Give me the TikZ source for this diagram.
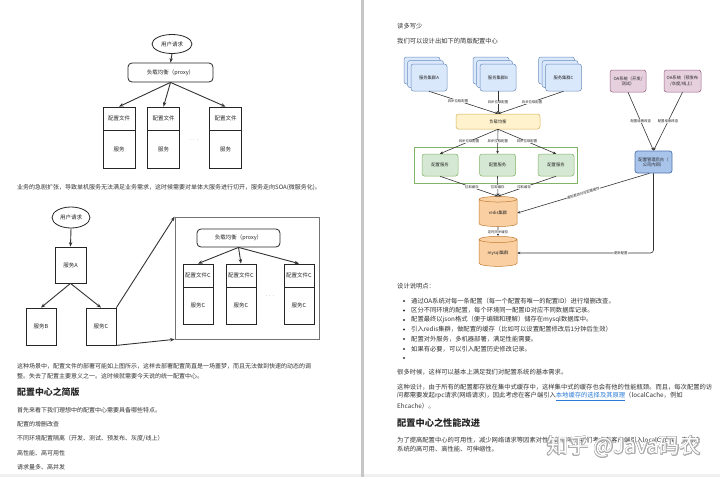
\documentclass[tikz,border=0pt]{standalone}
\usepackage{fontspec}
\setmainfont{Noto Sans CJK SC}
\usepackage{contour}
\contourlength{0.6pt}
\usetikzlibrary{arrows.meta,shapes.geometric}
\definecolor{bfill}{HTML}{DAE8FC}\definecolor{bdraw}{HTML}{6C8EBF}
\definecolor{yfill}{HTML}{FFF2CC}\definecolor{ydraw}{HTML}{D6B656}
\definecolor{gfill}{HTML}{D5E8D4}\definecolor{gdraw}{HTML}{82B366}
\definecolor{ofill}{HTML}{FAD0A3}\definecolor{odraw}{HTML}{C07A30}
\definecolor{pfill}{HTML}{E6D0DE}\definecolor{pdraw}{HTML}{996185}
\definecolor{mfill}{HTML}{A9C4EB}\definecolor{mdraw}{HTML}{4F74AE}
\definecolor{txtc}{HTML}{333333}
\definecolor{linkc}{HTML}{2B7BD6}
\newcommand\bodyfont{\fontsize{6.3}{9.5}\selectfont}
\newcommand\lbodyfont{\fontsize{6.0}{9}\selectfont}
\newcommand\headfont{\fontsize{9.2}{11}\selectfont\bfseries}
\newcommand\lheadfont{\fontsize{8.9}{11}\selectfont\bfseries}
\newcommand\lfont{\fontsize{5.5}{6.5}\selectfont}
\newcommand\sfont{\fontsize{4.3}{5.2}\selectfont}
\newcommand\efont{\fontsize{3.4}{4}\selectfont}
\tikzset{
  txt/.style={anchor=west, inner sep=0, font=\bodyfont, text=txtc},
  ltxt/.style={anchor=west, inner sep=0, font=\lbodyfont, text=txtc},
  headtxt/.style={anchor=west, inner sep=0, font=\headfont, text=black!85},
  lheadtxt/.style={anchor=west, inner sep=0, font=\lheadfont, text=black!85},
  lbox/.style={draw=black!85, line width=0.8pt, fill=white, inner sep=0, font=\lfont, text=black!85},
  lell/.style={ellipse, draw=black!85, line width=0.8pt, fill=white, inner sep=0, font=\lfont, text=black!85},
  larr/.style={-{Stealth[length=4.5pt,width=3.5pt]}, line width=0.9pt, draw=black!80},
  rbox/.style={draw, rounded corners=2.5, line width=0.5pt, inner sep=0, font=\sfont, align=center, text=black!85},
  cl/.style={rbox, fill=bfill, draw=bdraw, minimum width=36, minimum height=27},
  cyl/.style={cylinder, shape border rotate=90, aspect=0.3, draw=odraw, fill=ofill, line width=0.5pt, minimum width=38, minimum height=30, inner sep=0, font=\sfont, text=black!85},
  rarr/.style={-{Stealth[length=3pt,width=2.6pt]}, line width=0.6pt, draw=black!80},
  elbl/.style={font=\efont, fill=white, inner sep=0.4pt, text=black!85},
  dots/.style={inner sep=0, font=\lfont, text=black!70}
}
\begin{document}
\begin{tikzpicture}[x=1pt,y=-1pt]
\useasboundingbox (0,0) rectangle (720,477);
\fill[white] (0,0) rectangle (720,477);
\fill[gray!12] (0,474) rectangle (720,477);
\fill[gray!45] (361,0) rectangle (363.5,477);

% ---------- diagram 1 ----------
\node[lell, minimum width=40, minimum height=19] (u1) at (172,44) {用户请求};
\node[lbox, rounded corners=4, minimum width=85, minimum height=19] (p1) at (170.5,72.5) {负载均衡（proxy）};
\node[lbox, minimum width=32, minimum height=23] (a1t) at (119,118.5) {配置文件};
\node[lbox, minimum width=32, minimum height=38] (a1b) at (119,149) {服务};
\node[lbox, minimum width=32, minimum height=23] (a2t) at (163.5,118.5) {配置文件};
\node[lbox, minimum width=32, minimum height=38] (a2b) at (163.5,149) {服务};
\node[lbox, minimum width=32, minimum height=23] (a3t) at (225.5,118.5) {配置文件};
\node[lbox, minimum width=32, minimum height=38] (a3b) at (225.5,149) {服务};
\node[dots] (d1) at (194,140) {$\cdots$};
\draw[larr] (u1.south) -- (p1.north);
\draw[larr] (p1.south) -- (a1t.north);
\draw[larr] (p1.south) -- (a2t.north);
\draw[larr] (p1.south) -- (a3t.north);

\node[ltxt] (t1) at (17,188) {业务的急剧扩张，导致单机服务无法满足业务需求，这时候需要对单体大服务进行切开，服务走向SOA(微服务化)。};

% ---------- diagram 2 ----------
\node[lell, minimum width=38, minimum height=21] (u2) at (71,217.5) {用户请求};
\node[lbox, minimum width=31, minimum height=36] (sa) at (70.5,265) {服务A};
\node[lbox, minimum width=30, minimum height=37] (sb) at (41,326.5) {服务B};
\node[lbox, minimum width=30, minimum height=37] (sc) at (101,326.5) {服务C};
\draw[larr] (u2.south) -- (sa.north);
\draw[larr] (sa.south) -- (sb.north);
\draw[larr] (sa.south) -- (sc.north);
\node[draw=black!55, line width=0.7pt, minimum width=144, minimum height=122, inner sep=0] (big) at (247,278) {};
\draw[larr] (sc.north east) -- (big.north west);
\draw[larr] (sc.south east) -- (big.south west);
\node[lbox, rounded corners=4, minimum width=83, minimum height=18] (p2) at (238.5,238) {负载均衡（proxy）};
\node[lbox, minimum width=30, minimum height=23] (b1t) at (198,275.5) {配置文件C};
\node[lbox, minimum width=30, minimum height=37] (b1b) at (198,305.5) {服务C};
\node[lbox, minimum width=30, minimum height=23] (b2t) at (241,275.5) {配置文件C};
\node[lbox, minimum width=30, minimum height=37] (b2b) at (241,305.5) {服务C};
\node[lbox, minimum width=30, minimum height=23] (b3t) at (299,275.5) {配置文件C};
\node[lbox, minimum width=30, minimum height=37] (b3b) at (299,305.5) {服务C};
\node[dots] (d2) at (270,296) {$\cdots$};
\draw[larr] (p2.south) -- (b1t.north);
\draw[larr] (p2.south) -- (b2t.north);
\draw[larr] (p2.south) -- (b3t.north);

% ---------- left page text ----------
\node[ltxt] (t2) at (17,366) {这种场景中，配置文件的部署可能如上图所示，这样去部署配置简直是一场噩梦，而且无法做到快速的动态的调};
\node[ltxt] (t3) at (17,376) {整。失去了配置主要意义之一。这时候就需要今天说的统一配置中心。};
\node[lheadtxt] (h1) at (17,392) {配置中心之简版};
\node[ltxt] (t4) at (17,410) {首先来看下我们理想中的配置中心需要具备哪些特点。};
\node[ltxt] (t5) at (17,424) {配置的增删改查};
\node[ltxt] (t6) at (17,438) {不同环境配置隔离（开发、测试、预发布、灰度/线上）};
\node[ltxt] (t7) at (17,453) {高性能、高可用性};
\node[ltxt] (t8) at (17,467) {请求量多、高并发};

% ---------- right page text (top) ----------
\node[txt] (r1) at (397,26) {读多写少};
\node[txt] (r2) at (397,41) {我们可以设计出如下的简版配置中心};

% ---------- right diagram ----------
\foreach \n/\x in {A/429, B/498, C/563.5}{
  \node[cl] (c\n3) at (\x-7,70.5) {};
  \node[cl] (c\n2) at (\x-3.5,74) {};
}
\node[cl] (cA) at (429,77.5) {服务集群A};
\node[cl] (cB) at (498,77.5) {服务集群B};
\node[cl] (cC) at (563.5,77.5) {服务集群C};
\node[rbox, fill=yfill, draw=ydraw, minimum width=84, minimum height=15] (pr) at (498,121.5) {负载均衡};
\draw[rarr] (cA.south) -- node[elbl, pos=0.42] {异步拉取配置} (pr.north);
\draw[rarr] (cB.south) -- node[elbl, pos=0.5] {异步拉取配置} (pr.north);
\draw[rarr] (cC.south) -- node[elbl, pos=0.48] {异步拉取配置} (pr.north);
\node[draw=gdraw, line width=0.6pt, minimum width=163, minimum height=36, inner sep=0] (gc) at (495.5,165) {};
\node[rbox, fill=gfill, draw=gdraw, minimum width=36, minimum height=22] (g1) at (440,165) {配置服务};
\node[rbox, fill=gfill, draw=gdraw, minimum width=36, minimum height=22] (g2) at (497.5,165) {配置服务};
\node[rbox, fill=gfill, draw=gdraw, minimum width=36, minimum height=22] (g3) at (556,165) {配置服务};
\draw[rarr] (pr.south) -- node[elbl, pos=0.5] {异步拉取配置} (g1.north);
\draw[rarr] (pr.south) -- node[elbl, pos=0.5] {异步拉取配置} (g2.north);
\draw[rarr] (pr.south) -- node[elbl, pos=0.5] {异步拉取配置} (g3.north);
\node[cyl] (rd) at (498,213) {redis集群};
\node[cyl] (my) at (498,253) {mysql集群};
\draw[rarr] (g1.south) -- node[elbl, pos=0.55] {拉取缓存} (rd.north);
\draw[rarr] (g2.south) -- node[elbl, pos=0.55] {拉取缓存} (rd.north);
\draw[rarr] (g3.south) -- node[elbl, pos=0.55] {拉取缓存} (rd.north);
\draw[rarr] (rd.south) -- node[elbl, pos=0.55] {定时同步缓存} (my.north);
\node[rbox, fill=pfill, draw=pdraw, minimum width=36, minimum height=22] (oa1) at (628,81) {OA系统（开发/\\测试）};
\node[rbox, fill=pfill, draw=pdraw, minimum width=37, minimum height=22] (oa2) at (682.5,81) {OA系统（预发布\\/灰度/线上）};
\node[rbox, fill=mfill, draw=mdraw, line width=0.7pt, minimum width=37, minimum height=22] (mg) at (653.5,162) {配置管理后台（\\公司内网）};
\draw[rarr] (oa1.south) -- node[elbl, pos=0.5] {配置增删改查} (mg.north);
\draw[rarr] (oa2.south) -- node[elbl, pos=0.5] {配置增删改查} (mg.north);
\draw[rarr] (mg.-110) -- node[elbl, pos=0.5, sloped] {通知更改对应配置缓存} (rd.east);
\draw[rarr, rounded corners=3] (mg.south) |- node[elbl, pos=0.62] {更新配置} (my.east);

% ---------- right page text ----------
\node[txt] (r3) at (397,286) {设计说明点：};
\foreach \y in {301,310.5,320,329.5,339,349,358}{ \fill[txtc] (404,\y) circle (1.1); }
\node[txt] (r4) at (411,301) {通过OA系统对每一条配置（每一个配置有唯一的配置ID）进行增删改查。};
\node[txt] (r5) at (411,310.5) {区分不同环境的配置，每个环境同一配置ID对应不同数据库记录。};
\node[txt] (r6) at (411,320) {配置最终以json格式（便于编辑和理解）储存在mysql数据库中。};
\node[txt] (r7) at (411,329.5) {引入redis集群，做配置的缓存（比如可以设置配置修改后1分钟后生效）};
\node[txt] (r8) at (411,339) {配置对外服务，多机器部署，满足性能需要。};
\node[txt] (r9) at (411,349) {如果有必要，可以引入配置历史修改记录。};
\node[txt] (r10) at (397,372) {很多时候，这样可以基本上满足我们对配置系统的基本需求。};
\node[txt] (r11) at (397,387) {这种设计，由于所有的配置都存放在集中式缓存中，这样集中式的缓存也会有他的性能瓶颈。而且，每次配置的访};
\node[txt] (r12) at (397,396.5) {问都需要发起rpc请求(网络请求)，因此考虑在客户端引入\textcolor{linkc}{\underline{本地缓存的选择及其原理}}（localCache，例如};
\node[txt] (r13) at (397,406) {Ehcache）。};
\node[headtxt] (h2) at (397,423) {配置中心之性能改进};
\node[txt] (r14) at (397,440) {为了提高配置中心的可用性，减少网络请求等因素对性能的影响，我们考虑在客户端引入localCache，来解决};
\node[txt] (r15) at (397,449.5) {系统的高可用、高性能、可伸缩性。};
\node[inner sep=0] (wm) at (624,447) {\fontsize{21}{22}\selectfont\color{white}\contour{gray!65}{知乎 @Java码农}};
\end{tikzpicture}
\end{document}
